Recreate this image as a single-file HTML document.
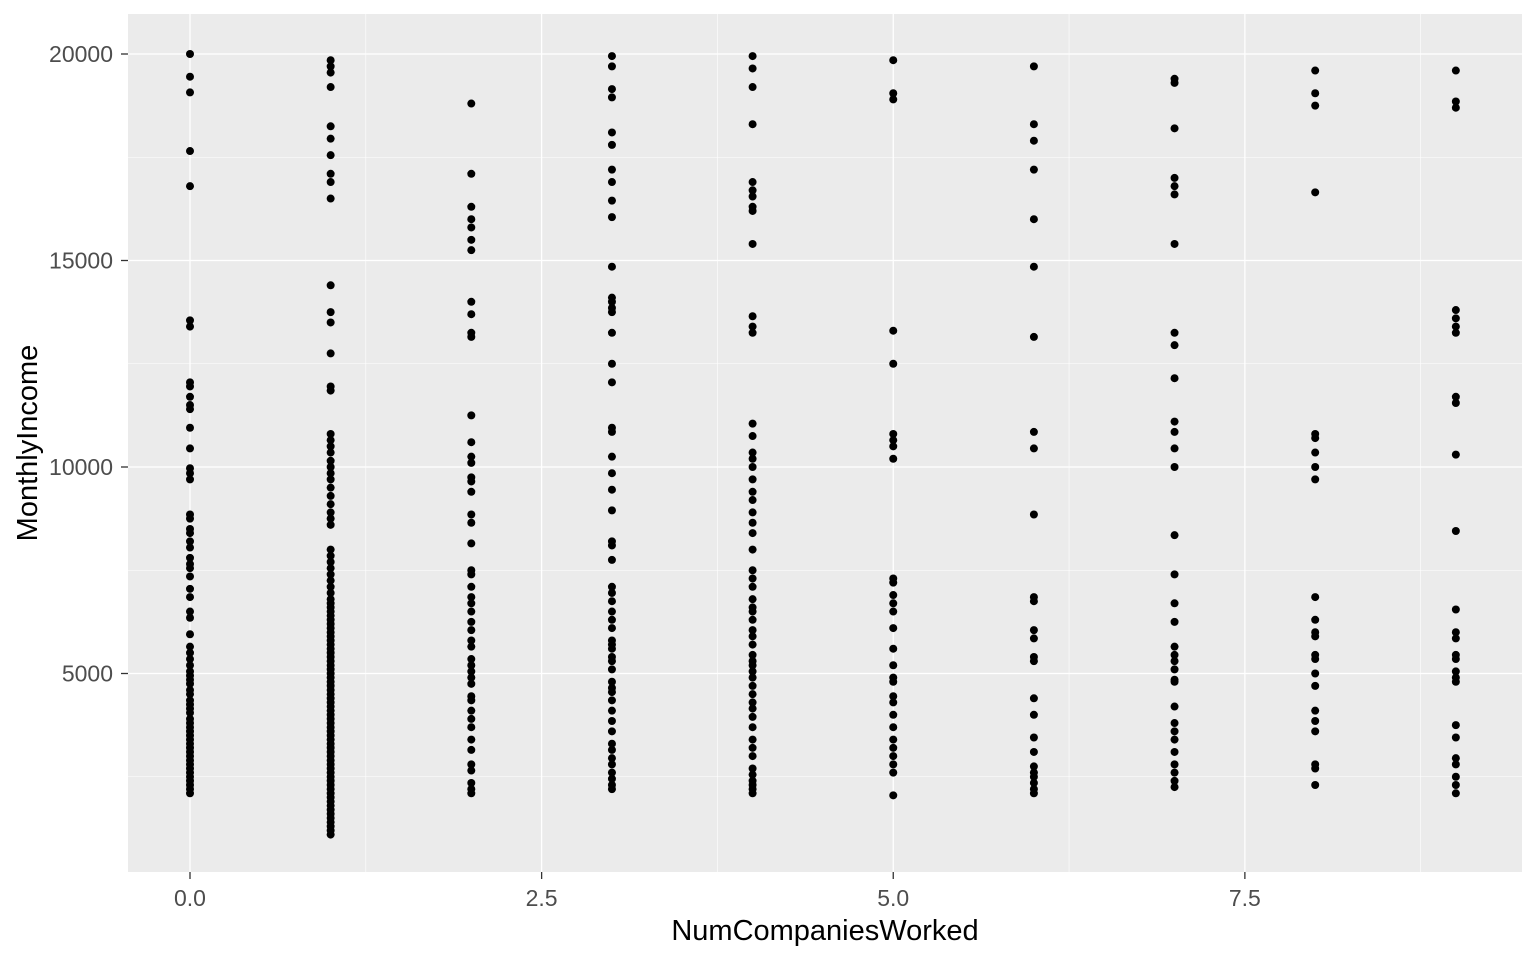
<!DOCTYPE html>
<html><head><meta charset="utf-8"><style>
body{margin:0;background:#fff;}
svg{display:block;font-family:"Liberation Sans",Arial,sans-serif;}
.tick{font-size:23px;fill:#4d4d4d;}
.title{font-size:29px;fill:#000;}
</style></head><body>
<svg id="chart" width="1536" height="960"></svg>
<script>
const companies=[0,1,2,3,4,5,6,7,8,9];
const income0=[20000,19450,19070,17650,16800,13550,13400,12050,11950,11700,11500,11400,10950,10450,9970,9850,9700,8850,8750,8500,8400,8200,8050,7800,7650,7550,7350,7050,6850,6500,6350,5950,5650,5500,5350,5200,5050,4950,4850,4750,4600,4500,4350,4250,4150,4050,3900,3800,3700,3600,3500,3400,3300,3200,3100,3000,2900,2800,2700,2600,2500,2400,2300,2200,2100];
const income1=[19850,19700,19550,19200,18250,17950,17550,17100,16900,16500,14400,13750,13500,12750,11950,11850,10800,10650,10500,10350,10150,10000,9850,9700,9500,9300,9100,8900,8750,8600,8000,7850,7700,7550,7400,7250,7100,6950,6800,6700,6600,6500,6400,6300,6200,6100,6000,5900,5800,5700,5600,5500,5400,5300,5200,5100,5000,4900,4800,4700,4600,4500,4400,4300,4200,4100,4000,3900,3800,3700,3600,3500,3400,3300,3200,3100,3000,2900,2800,2700,2600,2500,2400,2300,2200,2100,2000,1900,1800,1700,1600,1500,1400,1300,1200,1100];
const income2=[18800,17100,16300,16000,15800,15500,15250,14000,13700,13250,13150,11250,10600,10250,10100,9750,9650,9400,8850,8650,8150,7500,7400,7100,6850,6700,6500,6250,6050,5800,5650,5350,5200,5050,4900,4750,4450,4350,4100,3900,3700,3400,3150,2800,2650,2350,2200,2100];
const income3=[19950,19700,19150,18950,18100,17800,17200,16900,16450,16050,14850,14100,14000,13850,13750,13250,12500,12050,10950,10850,10250,9850,9450,8950,8200,8100,7750,7100,6950,6750,6500,6300,6100,5800,5700,5600,5400,5300,5100,4800,4650,4550,4350,4100,3850,3600,3300,3150,2950,2800,2600,2450,2300,2200];
const income4=[19950,19650,19200,18300,16900,16700,16550,16300,16200,15400,13650,13400,13250,11050,10750,10350,10200,10000,9700,9400,9200,8900,8650,8400,8000,7500,7300,7100,6800,6600,6500,6300,6050,5900,5700,5450,5300,5200,5050,4900,4700,4500,4300,4150,3950,3700,3400,3200,3000,2700,2550,2400,2300,2200,2100];
const income5=[19850,19050,18900,13300,12500,10800,10650,10500,10200,7300,7200,6900,6700,6500,6100,5600,5200,4900,4800,4450,4300,4000,3700,3400,3200,3000,2800,2600,2050];
const income6=[19700,18300,17900,17200,16000,14850,13150,10850,10450,8850,6850,6750,6050,5850,5400,5300,4400,4000,3450,3100,2750,2600,2500,2350,2200,2100];
const income7=[19400,19300,18200,17000,16800,16600,15400,13250,12950,12150,11100,10850,10450,10000,8350,7400,6700,6250,5650,5450,5300,5100,4850,4800,4200,3800,3600,3400,3100,2800,2600,2400,2250];
const income8=[19600,19050,18750,16650,10800,10700,10350,10000,9700,6850,6300,6000,5900,5450,5350,5000,4700,4100,3850,3600,2800,2700,2300];
const income9=[19600,18850,18700,13800,13600,13400,13250,11700,11550,10300,8450,6550,6000,5850,5450,5350,5050,4900,4800,3750,3450,2950,2800,2500,2300,2100];
const incomeByCompany=[income0,income1,income2,income3,income4,income5,income6,income7,income8,income9];
const xTicks=[0,2.5,5,7.5];
const xTickLabels=["0.0","2.5","5.0","7.5"];
const xMinor=[1.25,3.75,6.25,8.75];
const yTicks=[5000,10000,15000,20000];
const yTickLabels=["5000","10000","15000","20000"];
const yMinor=[2500,7500,12500,17500];

const NS="http://www.w3.org/2000/svg";
const svg=document.getElementById('chart');
const P={l:128,r:1522,t:14,b:872};
const xs=v=>190+(v-0)*140.65;
const ys=v=>54+(20000-v)*206.5/5000;
function mk(tag,attrs,parent){const e=document.createElementNS(NS,tag);for(const k in attrs)e.setAttribute(k,attrs[k]);(parent||svg).appendChild(e);return e;}

const panel=mk('rect',{x:P.l,y:P.t,width:P.r-P.l,height:P.b-P.t,fill:'#ebebeb'});


const grid=mk('g',{});


xMinor.forEach(v=>mk('line',{x1:xs(v),x2:xs(v),y1:P.t,y2:P.b,stroke:'#fff','stroke-width':0.6},grid));
yMinor.forEach(v=>mk('line',{x1:P.l,x2:P.r,y1:ys(v),y2:ys(v),stroke:'#fff','stroke-width':0.6},grid));
xTicks.forEach(v=>mk('line',{x1:xs(v),x2:xs(v),y1:P.t,y2:P.b,stroke:'#fff','stroke-width':1.3},grid));
yTicks.forEach(v=>mk('line',{x1:P.l,x2:P.r,y1:ys(v),y2:ys(v),stroke:'#fff','stroke-width':1.3},grid));

const pts=mk('g',{});


companies.forEach((c,i)=>{
  incomeByCompany[i].forEach(v=>{
    const p=mk('circle',{cx:xs(c),cy:ys(v),r:4,fill:'#000'},pts);
    
    
  });
});

xTicks.forEach((v,i)=>{
  mk('line',{x1:xs(v),x2:xs(v),y1:P.b,y2:P.b+7,stroke:'#333','stroke-width':1.3});
  const t=mk('text',{x:xs(v),y:906,'text-anchor':'middle','class':'tick'});
  t.textContent=xTickLabels[i];
  
  
});
yTicks.forEach((v,i)=>{
  mk('line',{x1:P.l-7,x2:P.l,y1:ys(v),y2:ys(v),stroke:'#333','stroke-width':1.3});
  const t=mk('text',{x:113,y:ys(v)+8,'text-anchor':'end','class':'tick'});
  t.textContent=yTickLabels[i];
  
  
});
const xt=mk('text',{x:(P.l+P.r)/2,y:940,'text-anchor':'middle','class':'title'});
xt.textContent='NumCompaniesWorked';


const yt=mk('text',{x:0,y:0,'text-anchor':'middle','class':'title',transform:`translate(37,${(P.t+P.b)/2}) rotate(-90)`});
yt.textContent='MonthlyIncome';


</script>
</body></html>
